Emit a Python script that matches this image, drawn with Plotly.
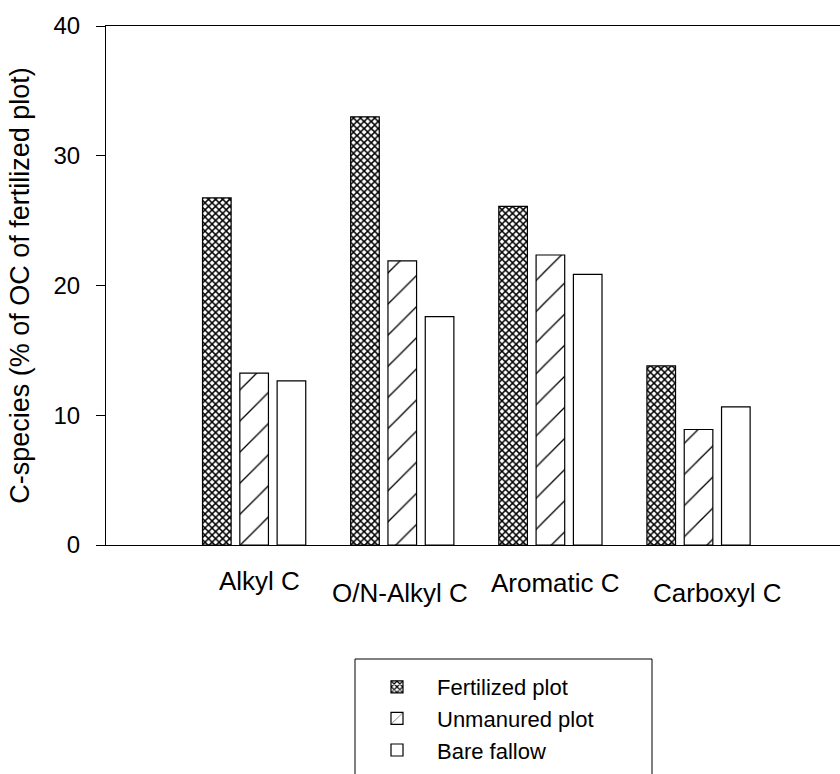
import plotly.graph_objects as go

categories = ["Alkyl C", "O/N-Alkyl C", "Aromatic C", "Carboxyl C"]
series_names = ["Fertilized plot", "Unmanured plot", "Bare fallow"]
fertilized = [26.75, 33.0, 26.1, 13.8]
unmanured = [13.25, 21.9, 22.35, 8.9]
bare_fallow = [12.65, 17.6, 20.85, 10.65]
y_ticks = [0, 10, 20, 30, 40]

FONT = "Arial, Liberation Sans, sans-serif"

W, H = 840, 774
ML, MR, MT, MB = 106, 0, 26, 229

patterns = [
    dict(shape="x", size=5, solidity=0.5, fgcolor="black", bgcolor="white",
         fillmode="overlay", fgopacity=1),
    dict(shape="/", size=22, solidity=0.06, fgcolor="black", bgcolor="white",
         fillmode="overlay", fgopacity=1),
    dict(shape="", fgcolor="black", bgcolor="white"),
]

fig = go.Figure()
for name, vals, pat in zip(series_names, [fertilized, unmanured, bare_fallow], patterns):
    fig.add_trace(go.Bar(
        x=categories, y=vals, name=name,
        marker=dict(color="white", line=dict(color="black", width=1.2), pattern=pat),
    ))

# staggered category labels
label_shift = [(5, -36), (-2, -48), (5, -38), (19, -48)]
for cat, (dx, dy) in zip(categories, label_shift):
    fig.add_annotation(x=cat, y=0, xref="x", yref="y", text=cat, showarrow=False,
                       xanchor="center", yanchor="middle", xshift=dx, yshift=dy,
                       font=dict(family=FONT, size=26, color="black"))

# legend frame (extends below the page)
pw = W - ML - MR
ph = H - MT - MB
def px_x(px):
    return (px - ML) / pw
def px_y(py):
    return (H - MB - py) / ph

fig.add_shape(type="rect", xref="paper", yref="paper",
              x0=px_x(355), x1=px_x(652), y0=px_y(800), y1=px_y(659),
              line=dict(color="black", width=1), fillcolor="rgba(0,0,0,0)")

fig.update_layout(
    width=W, height=H,
    margin=dict(l=ML, r=MR, t=MT, b=MB, autoexpand=False),
    paper_bgcolor="white", plot_bgcolor="white",
    barmode="group", bargap=0.2445, bargroupgap=0.233,
    font=dict(family=FONT, color="black"),
    showlegend=True,
    legend=dict(x=px_x(357), y=px_y(666), xanchor="left", yanchor="top",
                xref="paper", yref="paper",
                itemwidth=70, bgcolor="rgba(0,0,0,0)", borderwidth=0,
                font=dict(family=FONT, size=22, color="black"),
                traceorder="normal", itemclick=False),
)

fig.update_xaxes(
    type="category", range=[-1.0, 3.955],
    showticklabels=False, ticks="",
    showline=True, linecolor="black", linewidth=1, mirror=True,
    showgrid=False, zeroline=False,
)
fig.update_yaxes(
    range=[0, 40], tickvals=y_ticks, ticktext=[str(v) for v in y_ticks],
    ticks="outside", ticklen=9, tickcolor="black", tickwidth=1,
    tickfont=dict(family=FONT, size=24, color="black"),
    ticklabelstandoff=11,
    showline=True, linecolor="black", linewidth=1, mirror=False,
    showgrid=False, zeroline=False,
    title=dict(text="C-species (% of OC of fertilized plot)",
               font=dict(family=FONT, size=27, color="black"), standoff=16),
)

fig.write_html("out.html")
